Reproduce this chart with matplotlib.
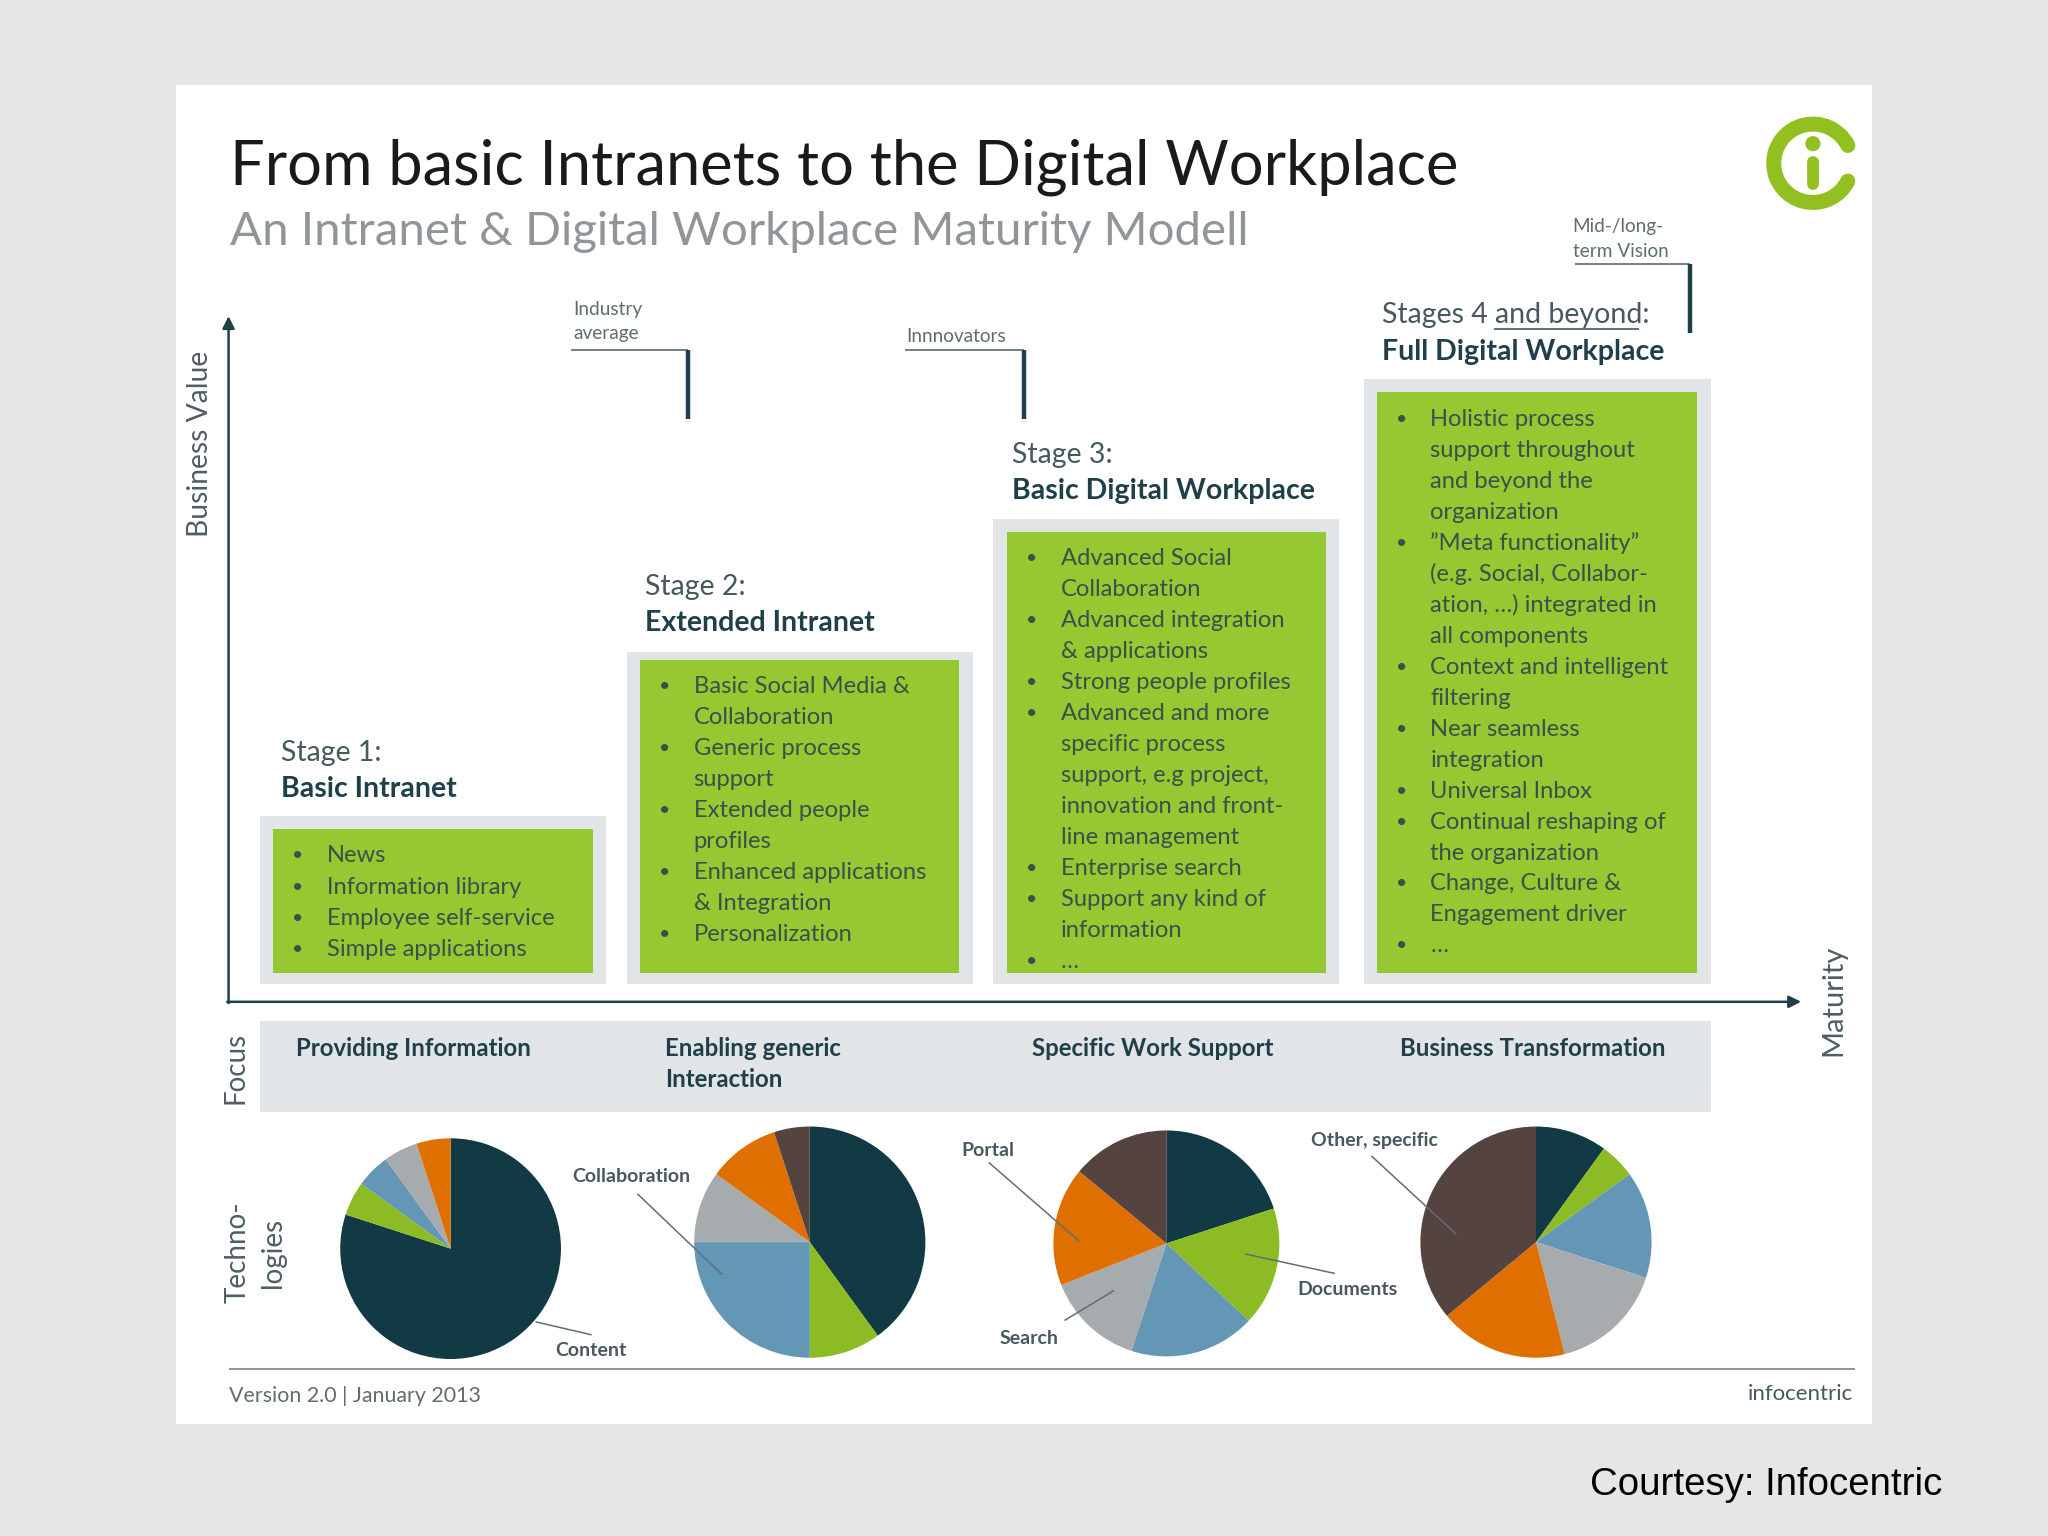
import matplotlib
matplotlib.use("Agg")
import matplotlib.pyplot as plt
from matplotlib.patches import Rectangle, Arc, Circle

plt.rcParams['font.family'] = ['Lato', 'DejaVu Sans']

TITLE = "From basic Intranets to the Digital Workplace"
SUBTITLE = "An Intranet & Digital Workplace Maturity Modell"
stage_heads = ["Stage 1:", "Stage 2:", "Stage 3:", "Stages 4 and beyond:"]
stage_names = ["Basic Intranet", "Extended Intranet", "Basic Digital Workplace", "Full Digital Workplace"]
stage1_items = [("•", "News"), ("•", "Information library"), ("•", "Employee self-service"), ("•", "Simple applications")]
stage2_items = [("•", "Basic Social Media &"), ("", "Collaboration"), ("•", "Generic process"), ("", "support"),
                ("•", "Extended people"), ("", "profiles"), ("•", "Enhanced applications"), ("", "& Integration"),
                ("•", "Personalization")]
stage3_items = [("•", "Advanced Social"), ("", "Collaboration"), ("•", "Advanced integration"), ("", "& applications"),
                ("•", "Strong people profiles"), ("•", "Advanced and more"), ("", "specific process"),
                ("", "support, e.g project,"), ("", "innovation and front-"), ("", "line management"),
                ("•", "Enterprise search"), ("•", "Support any kind of"), ("", "information"), ("•", "…")]
stage4_items = [("•", "Holistic process"), ("", "support throughout"), ("", "and beyond the"), ("", "organization"),
                ("•", "”Meta functionality”"), ("", "(e.g. Social, Collabor-"), ("", "ation, …) integrated in"),
                ("", "all components"), ("•", "Context and intelligent"), ("", "filtering"), ("•", "Near seamless"),
                ("", "integration"), ("•", "Universal Inbox"), ("•", "Continual reshaping of"), ("", "the organization"),
                ("•", "Change, Culture &"), ("", "Engagement driver"), ("•", "…")]
focus_labels = [["Providing Information"], ["Enabling generic", "Interaction"], ["Specific Work Support"], ["Business Transformation"]]
pie_1 = [80, 5, 5, 5, 5, 0]
pie_2 = [40, 10, 25, 10, 10, 5]
pie_3 = [20, 17, 18, 14, 17, 14]
pie_4 = [10, 5, 15, 16, 18, 36]
pie_colors = ["#123A44", "#8DBB24", "#6397B5", "#A6ABAE", "#DF7000", "#54433F"]

DARK = "#1F4048"
TXT = "#4C5F65"
BOXTXT = "#35534A"
GREEN = "#96C832"
PALE = "#E2E5E7"

fig = plt.figure(figsize=(20.48, 15.36), dpi=100, facecolor="#E6E6E6")
ax = fig.add_axes([0, 0, 1, 1])

def rect(x0, y0, x1, y1, c, z=1):
    ax.add_patch(Rectangle((x0, y0), x1 - x0, y1 - y0, fc=c, ec="none", zorder=z))

def line(xs, ys, c=DARK, lw=1.5, z=6):
    ax.plot(xs, ys, color=c, lw=lw, zorder=z, solid_capstyle="butt")

def txt(x, y, s, size, c=TXT, weight="normal", **kw):
    kw.setdefault("ha", "left")
    kw.setdefault("va", "center")
    ax.text(x, y, s, fontsize=size, color=c, fontweight=weight, zorder=7, **kw)

DY = 1.3  # baseline correction for horizontal text
rect(135, 65, 1433, 1090, "white", 0.5)

# Title
txt(176, 128, TITLE, 44.2, c="#1A1A1A")
txt(176, 177.5, SUBTITLE, 34.1, c="#8F9598")

# Logo
LOGO = "#92C020"
ax.add_patch(Arc((1388, 125), 60, 60, theta1=27, theta2=333, lw=10.8, color=LOGO, capstyle="round", zorder=6))
ax.add_patch(Circle((1388, 110), 5.8, fc=LOGO, ec="none", zorder=6))
ax.plot([1388, 1388], [124, 141], color=LOGO, lw=8.5, solid_capstyle="round", zorder=6)

# Axes arrows
ax.annotate("", xy=(175, 242), xytext=(175, 768),
            arrowprops=dict(arrowstyle="-|>", color=DARK, lw=1.8, mutation_scale=18, shrinkA=0, shrinkB=0), zorder=6)
ax.annotate("", xy=(1379, 767), xytext=(174, 767),
            arrowprops=dict(arrowstyle="-|>", color=DARK, lw=1.8, mutation_scale=18, shrinkA=0, shrinkB=0), zorder=6)
txt(153, 340, "Business Value", 20.3, rotation=90, ha="center", rotation_mode="anchor")
txt(1404, 766, "Maturity", 21, rotation=90, ha="center", rotation_mode="anchor")

# Stage boxes
outers = [(199, 625, 464, 753), (480, 499, 745, 753), (760, 397, 1025, 753), (1044, 290, 1310, 753)]
inners = [(209, 635, 454, 745), (490, 505, 734, 745), (771, 407, 1015, 745), (1054, 300, 1299, 745)]
starts = [654, 524, 426, 320]
steps = [24.0, 23.8, 23.77, 23.7]
heads_y = [575, 448, 347, 240]
names_y = [603, 476, 375, 268]
heads_x = [215, 494, 775, 1058]
for i, items in enumerate([stage1_items, stage2_items, stage3_items, stage4_items]):
    rect(*outers[i], PALE, 1)
    rect(*inners[i], GREEN, 2)
    gx = inners[i][0]
    for k, (b, t) in enumerate(items):
        y = starts[i] + k * steps[i] + DY
        if b:
            txt(gx + 19, y, b, 14, c=BOXTXT, ha="center")
        txt(gx + 41, y, t, 17.1, c=BOXTXT)
    txt(heads_x[i], heads_y[i] + DY, stage_heads[i], 20.5, c="#46595F")
    txt(heads_x[i], names_y[i] + DY, stage_names[i], 20.5, c=DARK, weight="bold")
line([1144, 1255], [252, 252], c="#46595F", lw=1.2)

# Annotation brackets
NOTE = "#5F6C70"
txt(439, 236 + DY, "Industry", 13.7, c=NOTE)
txt(439, 254 + DY, "average", 13.7, c=NOTE)
line([437, 527], [268, 268], lw=1.2, c="#5A6A70")
line([527, 527], [268, 321], lw=3.2)
txt(694, 256 + DY, "Innnovators", 13.7, c=NOTE)
line([693, 784], [268, 268], lw=1.2, c="#5A6A70")
line([784, 784], [268, 321], lw=3.2)
txt(1204, 172 + DY, "Mid-/long-", 13.7, c=NOTE)
txt(1204, 191 + DY, "term Vision", 13.7, c=NOTE)
line([1206, 1294], [202, 202], lw=1.2, c="#5A6A70")
line([1294, 1294], [202, 255], lw=3.2)

# Focus band
rect(199, 782, 1310, 851, PALE, 1)
txt(180, 818, "Focus", 20, rotation=90, ha="center", rotation_mode="anchor")
focus_x = [227, 509, 790, 1072]
for x, rows in zip(focus_x, focus_labels):
    for k, s in enumerate(rows):
        txt(x, 802.5 + 24 * k, s, 17.3, c=DARK, weight="bold")

txt(182, 959, "Techno-", 20, rotation=90, ha="center", rotation_mode="anchor")
txt(209, 959, "logies", 20, rotation=90, ha="center", rotation_mode="anchor")

# Pies
centers = [(345, 956), (620, 951), (893, 952), (1176, 951)]
radii = [84.5, 88.5, 86.5, 88.5]
for vals, c, r in zip([pie_1, pie_2, pie_3, pie_4], centers, radii):
    ax.pie(vals, colors=pie_colors, center=c, radius=r, startangle=-90, counterclock=True,
           frame=True, wedgeprops=dict(linewidth=0))

# Pie labels and leaders
for (xs, ys) in [([410, 453], [1012, 1022]), ([488, 553], [914, 976]), ([757, 826], [890, 950]),
                 ([953, 1022], [960, 975]), ([815, 853], [1011, 988]), ([1050, 1115], [885, 945])]:
    line(xs, ys, c="#5F6F75", lw=1.1)
for x, y, s in [(425, 1034, "Content"), (438, 901, "Collaboration"), (736, 881, "Portal"),
                (993, 987, "Documents"), (765, 1025, "Search"), (1004, 873, "Other, specific")]:
    txt(x, y, s, 14, c="#46595F", weight="bold")

# Footer
line([175, 1420], [1048, 1048], c="#8E9498", lw=1.5)
txt(175, 1069, "Version 2.0 | January 2013", 15.4, c=NOTE)
txt(1419, 1067, "infocentric", 16, c="#46595F", ha="right")
ax.text(1487, 1137, "Courtesy: Infocentric", fontsize=27.6, color="black", ha="right", va="center",
        family=["Liberation Sans", "DejaVu Sans"], zorder=7)

ax.set_xlim(0, 1568)
ax.set_ylim(1176, 0)
ax.set_aspect("auto")
ax.axis("off")
fig.savefig("out.png", dpi=100, facecolor=fig.get_facecolor())
